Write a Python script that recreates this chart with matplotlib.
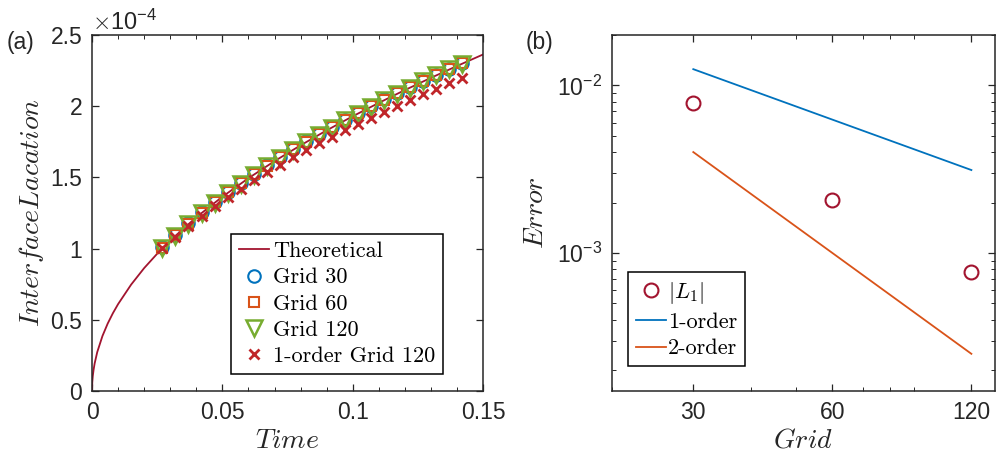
import matplotlib
matplotlib.use('Agg')
import matplotlib.pyplot as plt
import numpy as np
from matplotlib.ticker import FixedLocator, FuncFormatter, NullFormatter, LogLocator, MultipleLocator
from matplotlib.font_manager import FontProperties

plt.rcParams['font.family'] = ['Liberation Sans', 'DejaVu Sans']
plt.rcParams['mathtext.fontset'] = 'cm'
plt.rcParams['axes.unicode_minus'] = False

# (a) interface position vs time
t_theory = [0, 0.0001, 0.0003, 0.0006, 0.001, 0.002, 0.004, 0.006, 0.008, 0.01, 0.015, 0.02,
            0.025, 0.03, 0.04, 0.05, 0.06, 0.07, 0.08, 0.09, 0.10, 0.11, 0.12, 0.13, 0.14, 0.15]
x_theory = [0, 0.061, 0.106, 0.149, 0.193, 0.273, 0.386, 0.473, 0.546, 0.610, 0.747, 0.863,
            0.964, 1.057, 1.220, 1.364, 1.494, 1.614, 1.725, 1.830, 1.929, 2.023, 2.113, 2.199, 2.282, 2.363]
t_sim = [0.027, 0.032, 0.037, 0.042, 0.047, 0.052, 0.057, 0.062, 0.067, 0.072, 0.077, 0.082,
         0.087, 0.092, 0.097, 0.102, 0.107, 0.112, 0.117, 0.122, 0.127, 0.132, 0.137, 0.142]
x_grid30 = [1.008, 1.097, 1.179, 1.256, 1.328, 1.397, 1.462, 1.525, 1.585, 1.643, 1.699, 1.753,
            1.805, 1.856, 1.906, 1.954, 2.001, 2.047, 2.093, 2.137, 2.180, 2.222, 2.264, 2.305]
x_grid60 = [1.005, 1.094, 1.176, 1.253, 1.325, 1.394, 1.459, 1.522, 1.582, 1.640, 1.696, 1.750,
            1.802, 1.853, 1.903, 1.951, 1.998, 2.044, 2.090, 2.134, 2.177, 2.219, 2.261, 2.302]
x_grid120 = [1.002, 1.091, 1.173, 1.250, 1.322, 1.391, 1.456, 1.519, 1.579, 1.637, 1.693, 1.747,
             1.799, 1.850, 1.900, 1.948, 1.995, 2.041, 2.087, 2.131, 2.174, 2.216, 2.258, 2.299]
x_1st120 = [1.002, 1.081, 1.158, 1.230, 1.297, 1.361, 1.421, 1.479, 1.535, 1.589, 1.641, 1.691,
            1.739, 1.786, 1.832, 1.876, 1.919, 1.961, 2.004, 2.045, 2.085, 2.124, 2.163, 2.201]
scale_a = 1e-4

# (b) convergence
grids = [30, 60, 120]
err_L1 = [7.8e-3, 2.07e-3, 7.7e-4]
ref_1st = [1.25e-2, 6.25e-3, 3.125e-3]
ref_2nd = [4.0e-3, 1.0e-3, 2.5e-4]

c_blue = '#0072BD'; c_orange = '#D95319'; c_green = '#77AC30'; c_dred = '#A2142F'; c_red = '#C0262A'
ink = '#262626'
cmr = FontProperties(family='cmr10', size=16)
leg_kw = dict(prop=cmr, frameon=True, fancybox=False, framealpha=1, edgecolor='black',
              borderpad=0.35, labelspacing=0.3, borderaxespad=0)

fig = plt.figure(figsize=(9.97, 4.53), dpi=100)
ax1 = fig.add_axes([0.0923, 0.1369, 0.3922, 0.7859])
ax2 = fig.add_axes([0.6138, 0.1369, 0.3842, 0.7859])

ax1.plot(t_theory, np.array(x_theory) * scale_a, color=c_dred, lw=1.3, label='Theoretical', zorder=2)
ax1.plot(t_sim, np.array(x_grid30) * scale_a, 'o', ms=9, mfc='none', mec=c_blue, mew=1.5, label='Grid 30', zorder=3)
ax1.plot(t_sim, np.array(x_grid60) * scale_a, 's', ms=7.5, mfc='none', mec=c_orange, mew=1.5, label='Grid 60', zorder=4)
ax1.plot(t_sim, np.array(x_grid120) * scale_a, 'v', ms=11, mfc='none', mec=c_green, mew=1.8, label='Grid 120', zorder=5)
ax1.plot(t_sim, np.array(x_1st120) * scale_a, 'x', ms=7.5, mec=c_red, mew=2.0, label='1-order Grid 120', zorder=6)
ax1.set_xlim(0, 0.15); ax1.set_ylim(0, 2.5e-4)
ax1.xaxis.set_major_locator(FixedLocator([0, 0.05, 0.1, 0.15]))
ax1.xaxis.set_minor_locator(MultipleLocator(0.01))
ax1.xaxis.set_major_formatter(FuncFormatter(lambda v, p: f'{v:g}'))
ax1.yaxis.set_major_locator(MultipleLocator(0.5e-4))
ax1.yaxis.set_major_formatter(FuncFormatter(lambda v, p: f'{v / scale_a:g}'))
ax1.text(0.0, 1.0, r'$\times\mathdefault{10^{-4}}$', transform=ax1.transAxes, ha='left', va='bottom',
         fontsize=17, color=ink)
ax1.set_xlabel(r'$Time$', fontsize=20, color=ink, labelpad=3)
ax1.set_ylabel(r'$InterfaceLacation$', fontsize=20, color=ink, labelpad=3)
leg1 = ax1.legend(loc='lower right', bbox_to_anchor=(0.898, 0.048), handlelength=1.35,
                  handletextpad=0.2, **leg_kw)
leg1.get_frame().set_linewidth(1.1)

ax2.plot(grids, err_L1, 'o', ms=10, mfc='none', mec=c_dred, mew=1.5, label=r'$|L_1|$')
ax2.plot(grids, ref_1st, color=c_blue, lw=1.3, label='1-order')
ax2.plot(grids, ref_2nd, color=c_orange, lw=1.3, label='2-order')
ax2.set_xscale('log'); ax2.set_yscale('log')
ax2.set_xlim(20, 135); ax2.set_ylim(1.5e-4, 2e-2)
ax2.xaxis.set_major_locator(FixedLocator(grids))
ax2.xaxis.set_major_formatter(FuncFormatter(lambda v, p: f'{v:g}'))
ax2.xaxis.set_minor_locator(LogLocator(base=10, subs=np.arange(2, 10)))
ax2.xaxis.set_minor_formatter(NullFormatter())
ax2.yaxis.set_minor_locator(LogLocator(base=10, subs=np.arange(2, 10)))
ax2.yaxis.set_minor_formatter(NullFormatter())
ax2.set_xlabel(r'$Grid$', fontsize=20, color=ink, labelpad=3)
ax2.set_ylabel(r'$Error$', fontsize=20, color=ink, labelpad=6)
leg2 = ax2.legend(loc='lower left', bbox_to_anchor=(0.042, 0.07), handlelength=1.35,
                  handletextpad=0.1, **leg_kw)
leg2.get_frame().set_linewidth(1.1)

for ax in (ax1, ax2):
    for s in ax.spines.values():
        s.set_linewidth(1.1); s.set_color(ink)
    ax.tick_params(which='both', direction='in', top=True, right=True, colors=ink, labelsize=16.5)
    ax.tick_params(which='major', length=5, width=0.9, pad=7)
    ax.tick_params(which='minor', length=3, width=0.7)

fig.text(7 / 997, 1 - 43 / 453, '(a)', fontsize=16.5, color=ink, ha='left', va='center')
fig.text(526 / 997, 1 - 43 / 453, '(b)', fontsize=16.5, color=ink, ha='left', va='center')

fig.savefig('out.png', dpi=100)
